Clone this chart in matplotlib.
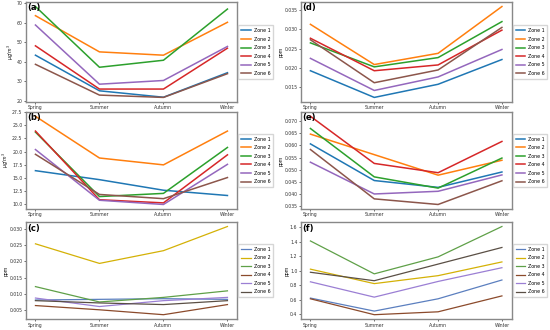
import matplotlib
matplotlib.use('Agg')
import matplotlib.pyplot as plt
from matplotlib.ticker import MultipleLocator, FormatStrFormatter

seasons = ['Spring', 'Summer', 'Autumn', 'Winter']
zones = ['Zone 1', 'Zone 2', 'Zone 3', 'Zone 4', 'Zone 5', 'Zone 6']

# (a) ug/m3
a_vals = [
    [43.3, 25.0, 21.7, 34.3],
    [63.6, 45.0, 43.3, 60.2],
    [68.3, 37.1, 40.7, 67.0],
    [48.1, 25.9, 25.9, 46.9],
    [58.8, 28.4, 30.3, 47.8],
    [38.6, 22.8, 21.6, 33.8],
]
# (b) ug/m3
b_vals = [
    [16.4, 14.7, 12.7, 11.7],
    [26.7, 18.8, 17.5, 23.9],
    [23.7, 11.5, 12.1, 20.8],
    [23.9, 10.9, 10.3, 19.4],
    [20.4, 10.8, 10.0, 17.6],
    [19.5, 11.9, 11.1, 15.1],
]
# (c) ppm
c_vals = [
    [0.0082, 0.0084, 0.0086, 0.0084],
    [0.0254, 0.0194, 0.0233, 0.0307],
    [0.0123, 0.0076, 0.0090, 0.0110],
    [0.0065, 0.0052, 0.0037, 0.0068],
    [0.0088, 0.0062, 0.0080, 0.0090],
    [0.0080, 0.0073, 0.0068, 0.0080],
]
# (d) ppm
d_vals = [
    [0.0193, 0.0124, 0.0158, 0.0222],
    [0.0313, 0.0209, 0.0238, 0.0359],
    [0.0265, 0.0203, 0.0227, 0.0320],
    [0.0277, 0.0193, 0.0208, 0.0298],
    [0.0225, 0.0142, 0.0177, 0.0248],
    [0.0273, 0.0162, 0.0195, 0.0305],
]
# (e) ppm
e_vals = [
    [0.0606, 0.0456, 0.0428, 0.0491],
    [0.0646, 0.0562, 0.0478, 0.0539],
    [0.0669, 0.0471, 0.0425, 0.0548],
    [0.0719, 0.0526, 0.0488, 0.0616],
    [0.0531, 0.0401, 0.0412, 0.0479],
    [0.0583, 0.0381, 0.0358, 0.0455],
]
# (f) ppm
f_vals = [
    [0.62, 0.44, 0.61, 0.87],
    [1.02, 0.82, 0.93, 1.12],
    [1.41, 0.955, 1.19, 1.61],
    [0.61, 0.39, 0.43, 0.65],
    [0.845, 0.633, 0.85, 1.04],
    [0.977, 0.86, 1.09, 1.32],
]

tab_colors = ['#1f77b4', '#ff7f0e', '#2ca02c', '#d62728', '#9467bd', '#8c564b']
alt_colors = ['#5b7fbf', '#d4b106', '#5fa048', '#8b4a2b', '#9b7fd4', '#5a4f45']

ugm3 = r'$\mu g/m^3$'

# label, values, ylabel, colours, tick step, format, position
panels = [
    ('(a)', a_vals, ugm3, tab_colors, 10, '%d', [0.047, 0.691, 0.384, 0.303]),
    ('(b)', b_vals, ugm3, tab_colors, 2.5, '%.1f', [0.047, 0.367, 0.384, 0.294]),
    ('(c)', c_vals, 'ppm', alt_colors, 0.005, '%.3f', [0.047, 0.033, 0.384, 0.294]),
    ('(d)', d_vals, 'ppm', tab_colors, 0.005, '%.3f', [0.547, 0.691, 0.383, 0.303]),
    ('(e)', e_vals, 'ppm', tab_colors, 0.005, '%.3f', [0.547, 0.367, 0.383, 0.294]),
    ('(f)', f_vals, 'ppm', alt_colors, 0.2, '%.1f', [0.547, 0.033, 0.383, 0.294]),
]

fig = plt.figure(figsize=(5.5, 3.3), dpi=100)

for label, vals, ylab, colors, step, fmt, pos in panels:
    ax = fig.add_axes(pos)
    lw = 0.9 if colors is alt_colors else 1.1
    for zone, v, c in zip(zones, vals, colors):
        ax.plot(seasons, v, color=c, lw=lw, label=zone)
    ax.yaxis.set_major_locator(MultipleLocator(step))
    ax.yaxis.set_major_formatter(FormatStrFormatter(fmt))
    ax.tick_params(labelsize=3.3, length=1.5, width=0.5, pad=1, colors='#333333')
    ax.set_ylabel(ylab, fontsize=3.3, labelpad=0.5)
    for s in ax.spines.values():
        s.set_color('#888888')
        s.set_linewidth(1.0)
    ax.text(0.005, 0.985, label, transform=ax.transAxes, fontsize=6,
            fontweight='bold', va='top', ha='left')
    ax.legend(loc='center left', bbox_to_anchor=(1.002, 0.5), fontsize=3.4,
              frameon=True, handlelength=2.0, handletextpad=0.6, borderpad=0.6,
              labelspacing=0.75, borderaxespad=0.2, fancybox=False,
              edgecolor='#cccccc')

fig.savefig('out.png', dpi=100)
